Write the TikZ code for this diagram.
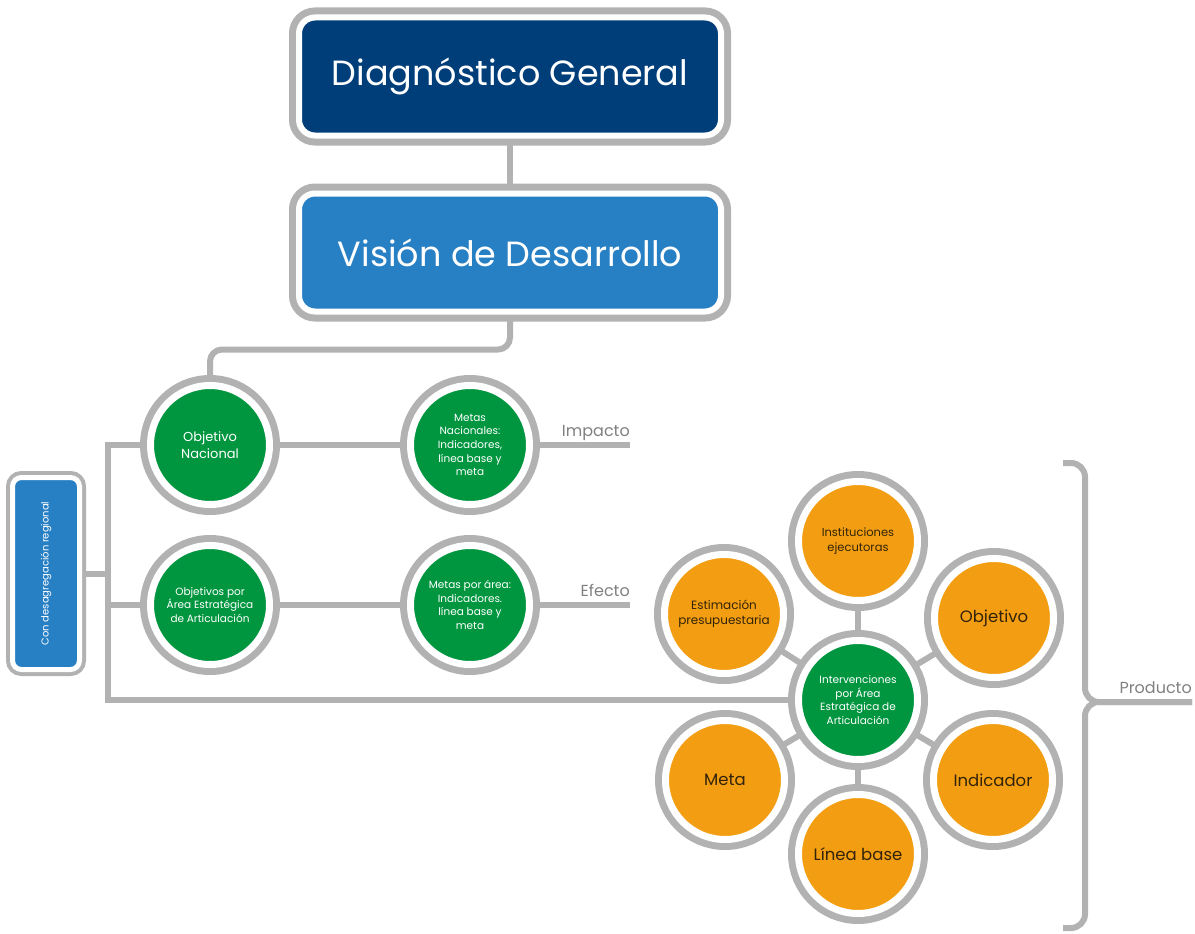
\documentclass[tikz,border=0pt]{standalone}
\usepackage{fontspec}
\setmainfont{Poppins}
\usetikzlibrary{backgrounds}
\definecolor{navy}{RGB}{0,62,122}
\definecolor{skyblue}{RGB}{40,128,196}
\definecolor{leaf}{RGB}{0,150,64}
\definecolor{amber}{RGB}{243,158,18}
\definecolor{ring}{RGB}{178,178,178}
\definecolor{labelgray}{RGB}{128,128,128}
\definecolor{ink}{RGB}{50,35,10}
\newcommand{\fs}[1]{\fontsize{#1}{1.3\dimexpr#1pt\relax}\selectfont}

\tikzset{
  bigbox/.style={rectangle, rounded corners=16pt, minimum width=422pt,
    minimum height=118pt, preaction={draw=ring, line width=20pt},
    draw=white, line width=6pt, text=white, font=\fs{35}},
  disc/.style={circle, minimum size=119pt, inner sep=0pt, align=center,
    preaction={draw=ring, line width=21pt}, draw=white, line width=7pt},
  greendisc/.style={disc, fill=leaf, text=white},
  orangedisc/.style={disc, fill=amber, text=ink},
  link/.style={draw=ring, line width=6pt},
  tag/.style={text=labelgray, font=\fs{16}, inner sep=0pt, anchor=base east, yshift=9pt}
}

\begin{document}
\begin{tikzpicture}[x=1pt,y=-1pt]
\useasboundingbox (0,0) rectangle (1195,934);

\node[bigbox, fill=navy] (diag) at (510,76.5) {Diagnóstico General};
\node[bigbox, fill=skyblue] (vision) at (510,252.5) {Visión de Desarrollo};

\node[rectangle, rotate=90, rounded corners=9pt, minimum width=192pt, minimum height=67pt,
  preaction={draw=ring, line width=13pt}, draw=white, line width=5pt, fill=skyblue,
  text=white, font=\fs{10}] (region) at (46,573.5) {Con desagregación regional};

% objetivos y metas
\node[greendisc, font=\fs{13}] (objnac) at (210,445) {Objetivo\\Nacional};
\node[greendisc, font=\fs{10.5}] (metasnac) at (470,445)
  {Metas\\Nacionales:\\Indicadores,\\línea base y\\meta};
\node[greendisc, font=\fs{10.5}] (objarea) at (210,605)
  {Objetivos por\\Área Estratégica\\de Articulación};
\node[greendisc, font=\fs{10.5}] (metasarea) at (470,605)
  {Metas por área:\\Indicadores.\\línea base y\\meta};

% intervenciones
\node[greendisc, font=\fs{10.5}] (interv) at (858,700)
  {Intervenciones\\por Área\\Estratégica de\\Articulación};
\node[orangedisc, font=\fs{11.5}] (inst) at (858,541) {Instituciones\\ejecutoras};
\node[orangedisc, font=\fs{16.5}] (obj) at (994,618) {Objetivo};
\node[orangedisc, font=\fs{16.5}] (ind) at (993,780) {Indicador};
\node[orangedisc, font=\fs{16.5}] (linea) at (858,854) {Línea base};
\node[orangedisc, font=\fs{16.5}] (meta) at (725,780) {Meta};
\node[orangedisc, font=\fs{12}] (estim) at (724,614) {Estimación\\presupuestaria};

\coordinate (spinetop) at (108,445);
\coordinate (spinebot) at (108,700);
\coordinate (impactoend) at (630,445);
\coordinate (efectoend) at (630,605);
\coordinate (bracetop) at (1063,463);
\coordinate (bracemid) at (1085,702);
\coordinate (bracebot) at (1063,928);
\coordinate (productoend) at (1192,702);

\begin{scope}[on background layer]
\draw[link] (diag) -- (vision);
\draw[link, rounded corners=12pt] (vision.south) -- ++(0,35) -| (objnac);
\draw[link] (objnac) -- (spinetop) -- (spinebot) -- (interv);
\draw[link] (objarea) -- (objarea -| spinetop);
\draw[link] (region) -- (region -| spinetop);
\draw[link] (objnac) -- (metasnac) -- (impactoend);
\draw[link] (objarea) -- (metasarea) -- (efectoend);
\foreach \n in {inst,obj,ind,linea,meta,estim}
  \draw[link] (interv) -- (\n);
\end{scope}

\draw[link, rounded corners=14pt] (bracetop) -| (bracemid) -- (productoend);
\draw[link, rounded corners=14pt] (productoend) -- (bracemid) |- (bracebot);

\node[tag] (impacto) at (impactoend) {Impacto};
\node[tag] (efecto) at (efectoend) {Efecto};
\node[tag] (producto) at (productoend) {Producto};
\end{tikzpicture}
\end{document}
